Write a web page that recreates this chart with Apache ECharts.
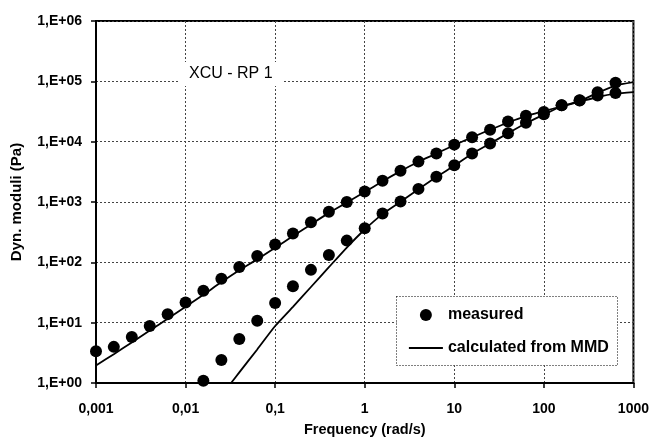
<!DOCTYPE html>
<html><head><meta charset="utf-8">
<script src="https://cdn.jsdelivr.net/npm/echarts@6/dist/echarts.min.js"></script>
<style>html,body{margin:0;padding:0;background:#fff}#c{width:652px;height:442px}</style>
</head><body><div id="c"></div>
<script>
// measured data (G'' upper at low frequency, G' lower)
const freqMeasured = [0.001, 0.00158, 0.00251, 0.00398, 0.00631, 0.01, 0.0158, 0.0251, 0.0398, 0.0631, 0.1, 0.158, 0.251, 0.398, 0.631, 1, 1.58, 2.51, 3.98, 6.31, 10, 15.8, 25.1, 39.8, 63.1, 100, 158, 251, 398, 631];
const gDoublePrimeMeasured = [3.36, 3.97, 5.77, 8.83, 13.8, 21.5, 33.7, 53.5, 84, 127, 197, 301, 460, 687, 1000, 1496, 2260, 3290, 4670, 6370, 8930, 11800, 15700, 21500, 27000, 31000, 40000, 48500, 58000, 64000];
const freqMeasuredPrime = [0.0158, 0.0251, 0.0398, 0.0631, 0.1, 0.158, 0.251, 0.398, 0.631, 1, 1.58, 2.51, 3.98, 6.31, 10, 15.8, 25.1, 39.8, 63.1, 100, 158, 251, 398, 631];
const gPrimeMeasured = [1.09, 2.40, 5.36, 10.8, 21.2, 40, 75, 132, 229, 367, 646, 1020, 1650, 2630, 4060, 6370, 9340, 13800, 20500, 28500, 40000, 48300, 66000, 95000];
// calculated from MMD
const freqCalcDoublePrime = [0.001, 0.00158, 0.00251, 0.00398, 0.00631, 0.01, 0.0158, 0.0251, 0.0398, 0.0631, 0.1, 0.158, 0.251, 0.398, 0.631, 1, 1.58, 2.51, 3.98, 6.31, 10, 15.8, 25.1, 39.8, 63.1, 100, 158, 251, 398, 631, 1000];
const gDoublePrimeCalc = [1.95, 3.0, 4.7, 7.4, 11.6, 18.3, 29, 47, 74, 112, 175, 272, 425, 660, 980, 1460, 2200, 3250, 4650, 6350, 8800, 11800, 15800, 20800, 26500, 32000, 38500, 46000, 55000, 62500, 66500];
const freqCalcPrime = [0.0322, 0.0398, 0.0631, 0.1, 0.158, 0.251, 0.398, 0.631, 1, 1.58, 2.51, 3.98, 6.31, 10, 15.8, 25.1, 39.8, 63.1, 100, 158, 251, 398, 631, 1000];
const gPrimeCalc = [1, 1.5, 3.6, 8.8, 18.3, 39, 83, 176, 350, 630, 1010, 1630, 2600, 4000, 6300, 9300, 13800, 20200, 28000, 38600, 47300, 64500, 85000, 97000];
const xTickLabels = ['0,001', '0,01', '0,1', '1', '10', '100', '1000'];
const yTickLabels = ['1,E+00', '1,E+01', '1,E+02', '1,E+03', '1,E+04', '1,E+05', '1,E+06'];

const zip = (xs, ys) => xs.map((x, i) => [x, ys[i]]);
const FF = '"Liberation Sans", Arial, sans-serif';
const chart = echarts.init(document.getElementById('c'), null, {renderer: 'canvas'});
chart.setOption({
  animation: false,
  backgroundColor: '#fff',
  title: {
    text: 'XCU - RP 1', left: 179, top: 62, padding: [4, 10], backgroundColor: '#fff',
    textStyle: {fontFamily: FF, fontSize: 16, fontWeight: 'normal', color: '#000'}
  },
  grid: {left: 96, right: 16, top: 21, bottom: 53, show: true, borderColor: '#000', borderWidth: 2, backgroundColor: 'transparent'},
  graphic: [{
    type: 'rect', z: 3, shape: {x: 396.5, y: 296.5, width: 221, height: 69},
    style: {fill: '#fff', stroke: '#000', lineWidth: 1, lineDash: [1, 2]}
  }],
  legend: {
    orient: 'vertical', left: 408, top: 307, padding: 0, itemGap: 17,
    itemWidth: 34, itemHeight: 12, z: 4,
    textStyle: {fontFamily: FF, fontSize: 16, fontWeight: 'bold', color: '#000'},
    data: [
      {name: 'measured', itemStyle: {opacity: 1}},
      {name: 'calculated from MMD', itemStyle: {opacity: 0}, lineStyle: {opacity: 1, width: 1.8}}
    ]
  },
  xAxis: {
    type: 'log', logBase: 10, min: 0.001, max: 1000,
    name: 'Frequency (rad/s)', nameLocation: 'middle', nameGap: 39,
    nameTextStyle: {fontFamily: FF, fontSize: 14.5, fontWeight: 'bold', color: '#000'},
    axisLine: {show: true, lineStyle: {color: '#000', width: 2}},
    axisTick: {show: true, inside: false, length: 5, lineStyle: {color: '#000', width: 1.5}},
    axisLabel: {
      margin: 19, fontFamily: FF, fontSize: 14, fontWeight: 'bold', color: '#000',
      formatter: v => xTickLabels[Math.round(Math.log10(v)) + 3]
    },
    splitLine: {show: true, lineStyle: {color: '#444', width: 1, type: [2, 2]}},
    minorTick: {show: false}
  },
  yAxis: {
    type: 'log', logBase: 10, min: 1, max: 1000000,
    name: 'Dyn. moduli (Pa)', nameLocation: 'middle', nameGap: 72, nameRotate: 90,
    nameTextStyle: {fontFamily: FF, fontSize: 15, fontWeight: 'bold', color: '#000'},
    axisLine: {show: true, lineStyle: {color: '#000', width: 2}},
    axisTick: {show: true, inside: false, length: 5, lineStyle: {color: '#000', width: 1.5}},
    axisLabel: {
      margin: 14, fontFamily: FF, fontSize: 14, fontWeight: 'bold', color: '#000',
      formatter: v => yTickLabels[Math.round(Math.log10(v))]
    },
    splitLine: {show: true, lineStyle: {color: '#444', width: 1, type: [2, 2]}}
  },
  series: [
    {name: 'calculated from MMD', type: 'line', data: zip(freqCalcDoublePrime, gDoublePrimeCalc), symbol: 'none', smooth: 0.2,
     lineStyle: {color: '#000', width: 1.8}, itemStyle: {color: '#000'}, z: 2},
    {name: 'calculated from MMD', type: 'line', data: zip(freqCalcPrime, gPrimeCalc), symbol: 'none', smooth: 0.2,
     lineStyle: {color: '#000', width: 1.8}, itemStyle: {color: '#000'}, z: 2},
    {name: 'measured', type: 'scatter', data: zip(freqMeasured, gDoublePrimeMeasured), symbol: 'circle', symbolSize: 12,
     itemStyle: {color: '#000', opacity: 1}, z: 3},
    {name: 'measured', type: 'scatter', data: zip(freqMeasuredPrime, gPrimeMeasured), symbol: 'circle', symbolSize: 12,
     itemStyle: {color: '#000', opacity: 1}, z: 3}
  ]
});
</script></body></html>
